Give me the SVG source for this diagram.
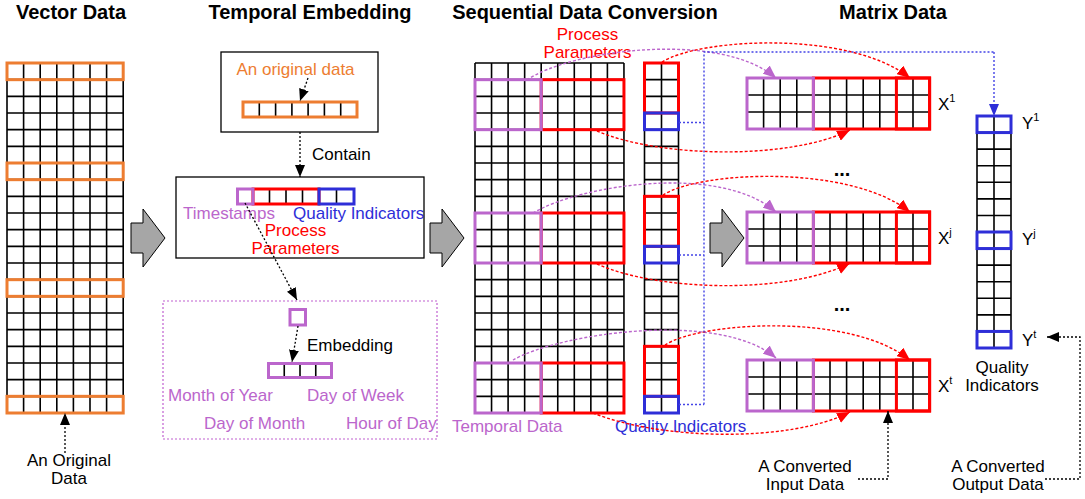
<svg xmlns="http://www.w3.org/2000/svg" width="1085" height="499" viewBox="0 0 1085 499">
  <style>
    text { font-family: "Liberation Sans", Arial, sans-serif; font-size: 17px; }
    .title { font-size: 20px; font-weight: bold; text-anchor: middle; fill: #000; }
    .lbl { fill: #000; }
    .mid { text-anchor: middle; }
    .t-orange { fill: #ED7D31; }
    .t-purple { fill: #BB66CC; }
    .t-red { fill: #FF0000; }
    .t-blue { fill: #2E2ED8; }
    .grid { fill: none; stroke: #000; stroke-width: 1.6; }
    .box-orange { fill: none; stroke: #ED7D31; stroke-width: 3; }
    .box-purple { fill: none; stroke: #BB66CC; stroke-width: 3; }
    .box-red { fill: none; stroke: #FF0000; stroke-width: 3; }
    .box-blue { fill: none; stroke: #2E2ED8; stroke-width: 3; }
    .frame { fill: #fff; stroke: #000; stroke-width: 1.3; }
    .frame-dot { fill: none; stroke: #C060D0; stroke-width: 1.2; stroke-dasharray: 2 2; }
    .block { fill: #A6A6A6; stroke: #000; stroke-width: 1; }
    .c-black { fill: none; stroke: #000; stroke-width: 1.3; stroke-dasharray: 2 2; }
    .c-red { fill: none; stroke: #FF0000; stroke-width: 1.4; stroke-dasharray: 3 2; }
    .c-purple { fill: none; stroke: #BB66CC; stroke-width: 1.4; stroke-dasharray: 3 2; }
    .c-blue { fill: none; stroke: #4444E6; stroke-width: 1.4; stroke-dasharray: 2 2; }
    .sup { font-size: 11px; }
  </style>
  <defs>
    <marker id="ah-black" viewBox="0 0 12 10" refX="12" refY="5" markerWidth="12" markerHeight="10" markerUnits="userSpaceOnUse" orient="auto">
      <path d="M0,0L12,5L0,10z" fill="#000"/>
    </marker>
    <marker id="ah-red" viewBox="0 0 12 10" refX="12" refY="5" markerWidth="13" markerHeight="11" markerUnits="userSpaceOnUse" orient="auto">
      <path d="M0,0L12,5L0,10z" fill="#FF0000"/>
    </marker>
    <marker id="ah-purple" viewBox="0 0 12 10" refX="12" refY="5" markerWidth="13" markerHeight="11" markerUnits="userSpaceOnUse" orient="auto">
      <path d="M0,0L12,5L0,10z" fill="#BB66CC"/>
    </marker>
    <marker id="ah-blue" viewBox="0 0 12 10" refX="12" refY="5" markerWidth="12" markerHeight="10" markerUnits="userSpaceOnUse" orient="auto">
      <path d="M0,0L12,5L0,10z" fill="#2E2ED8"/>
    </marker>
    <!-- one converted sample: 3 time steps x 11 features -->
    <g id="matrix">
      <path class="grid" d="M0,0V51M16.6,0V51M33.2,0V51M49.8,0V51M66.4,0V51M83,0V51M99.6,0V51M116.2,0V51M132.8,0V51M149.4,0V51M166,0V51M182.6,0V51M0,0H182.6M0,17H182.6M0,34H182.6M0,51H182.6"/>
      <rect class="box-red" x="66.4" y="0" width="116.2" height="51"/>
      <rect class="box-red" x="149.4" y="0" width="33.2" height="51"/>
      <rect class="box-purple" x="0" y="0" width="66.4" height="51"/>
    </g>
    <path id="block-arrow" class="block" d="M131,223H143V209L165,238L143,267V253H131Z"/>
  </defs>

  <rect width="1085" height="499" fill="#fff"/>

  <!-- section titles -->
  <text class="title" x="71" y="19">Vector Data</text>
  <text class="title" x="310" y="19">Temporal Embedding</text>
  <text class="title" x="585" y="19">Sequential Data Conversion</text>
  <text class="title" x="893" y="19">Matrix Data</text>

  <!-- raw vector table -->
  <g id="vector-data">
    <path class="grid" d="M7,63V413M23.6,63V413M40.2,63V413M56.8,63V413M73.4,63V413M90,63V413M106.6,63V413M123.2,63V413
      M7,63H123.2M7,79.67H123.2M7,96.33H123.2M7,113H123.2M7,129.67H123.2M7,146.33H123.2M7,163H123.2M7,179.67H123.2M7,196.33H123.2M7,213H123.2M7,229.67H123.2M7,246.33H123.2M7,263H123.2M7,279.67H123.2M7,296.33H123.2M7,313H123.2M7,329.67H123.2M7,346.33H123.2M7,363H123.2M7,379.67H123.2M7,396.33H123.2M7,413H123.2"/>
    <rect class="box-orange" x="7" y="63" width="116.2" height="16.67"/>
    <rect class="box-orange" x="7" y="163" width="116.2" height="16.67"/>
    <rect class="box-orange" x="7" y="279.67" width="116.2" height="16.67"/>
    <rect class="box-orange" x="7" y="396.33" width="116.2" height="16.67"/>
  </g>
  <g id="label-original">
    <text class="lbl mid" x="69" y="466">An Original</text>
    <text class="lbl mid" x="69" y="484">Data</text>
  </g>

  <!-- step arrows -->
  <g id="step-arrows">
    <use href="#block-arrow"/>
    <use href="#block-arrow" x="299"/>
    <use href="#block-arrow" x="579"/>
  </g>

  <!-- one original record -->
  <g id="original-record">
    <rect class="frame" x="221" y="52" width="157" height="80"/>
    <text class="t-orange mid" x="295.5" y="75">An original data</text>
    <path class="grid" d="M259.3,102V117M275.6,102V117M291.9,102V117M308.1,102V117M324.4,102V117M340.7,102V117"/>
    <rect class="box-orange" x="243" y="102" width="114" height="15"/>
  </g>

  <!-- record split into fields -->
  <g id="record-fields">
    <rect class="frame" x="176" y="177" width="248" height="81"/>
    <path class="grid" d="M269.5,189V204M286,189V204M302.5,189V204M336.5,189V204"/>
    <rect class="box-red" x="253" y="189" width="66" height="15"/>
    <rect class="box-purple" x="237.5" y="189" width="15.5" height="15"/>
    <rect class="box-blue" x="319" y="189" width="35" height="15"/>
    <text class="t-purple" x="183" y="219">Timestamps</text>
    <text class="t-blue" x="293" y="219">Quality Indicators</text>
    <text class="t-red mid" x="295.5" y="236">Process</text>
    <text class="t-red mid" x="295.5" y="254">Parameters</text>
  </g>

  <!-- timestamp embedding -->
  <g id="time-embedding">
    <rect class="frame-dot" x="163" y="301" width="274" height="138"/>
    <rect class="box-purple" x="290" y="309.5" width="15.5" height="15.5"/>
    <path class="grid" d="M284.25,363.5V377.5M300,363.5V377.5M315.75,363.5V377.5"/>
    <rect class="box-purple" x="268.5" y="363.5" width="63" height="14"/>
    <text class="t-purple" x="168" y="401">Month of Year</text>
    <text class="t-purple" x="307" y="401">Day of Week</text>
    <text class="t-purple" x="204" y="429">Day of Month</text>
    <text class="t-purple" x="346" y="429">Hour of Day</text>
  </g>

  <!-- sequential table -->
  <g id="sequence-table">
    <path class="grid" d="M475,63V413M491.55,63V413M508.1,63V413M524.65,63V413M541.2,63V413M557.75,63V413M574.3,63V413M590.85,63V413M607.4,63V413M623.95,63V413
      M475,63H623.95M475,79.67H623.95M475,96.33H623.95M475,113H623.95M475,129.67H623.95M475,146.33H623.95M475,163H623.95M475,179.67H623.95M475,196.33H623.95M475,213H623.95M475,229.67H623.95M475,246.33H623.95M475,263H623.95M475,279.67H623.95M475,296.33H623.95M475,313H623.95M475,329.67H623.95M475,346.33H623.95M475,363H623.95M475,379.67H623.95M475,396.33H623.95M475,413H623.95"/>
    <rect class="box-red" x="541.2" y="79.67" width="82.75" height="50"/>
    <rect class="box-purple" x="475" y="79.67" width="66.2" height="50"/>
    <rect class="box-red" x="541.2" y="213" width="82.75" height="50"/>
    <rect class="box-purple" x="475" y="213" width="66.2" height="50"/>
    <rect class="box-red" x="541.2" y="363" width="82.75" height="50"/>
    <rect class="box-purple" x="475" y="363" width="66.2" height="50"/>
    <text class="t-red mid" x="587.5" y="40">Process</text>
    <text class="t-red mid" x="587.5" y="58">Parameters</text>
    <text class="t-purple" x="452" y="432">Temporal Data</text>
  </g>

  <!-- quality / parameter column -->
  <g id="quality-column">
    <path class="grid" d="M644.5,63V413M661.5,63V413M678.5,63V413
      M644.5,63H678.5M644.5,79.67H678.5M644.5,96.33H678.5M644.5,113H678.5M644.5,129.67H678.5M644.5,146.33H678.5M644.5,163H678.5M644.5,179.67H678.5M644.5,196.33H678.5M644.5,213H678.5M644.5,229.67H678.5M644.5,246.33H678.5M644.5,263H678.5M644.5,279.67H678.5M644.5,296.33H678.5M644.5,313H678.5M644.5,329.67H678.5M644.5,346.33H678.5M644.5,363H678.5M644.5,379.67H678.5M644.5,396.33H678.5M644.5,413H678.5"/>
    <rect class="box-red" x="644.5" y="63" width="34" height="50"/>
    <rect class="box-blue" x="644.5" y="113" width="34" height="16.67"/>
    <rect class="box-red" x="644.5" y="196.33" width="34" height="50"/>
    <rect class="box-blue" x="644.5" y="246.33" width="34" height="16.67"/>
    <rect class="box-red" x="644.5" y="346.33" width="34" height="50"/>
    <rect class="box-blue" x="644.5" y="396.33" width="34" height="16.67"/>
    <text class="t-blue" x="615" y="432">Quality Indicators</text>
  </g>

  <!-- converted inputs -->
  <g id="matrix-x1">
    <use href="#matrix" transform="translate(747,78)"/>
    <text class="lbl" x="938" y="110">X<tspan class="sup" dy="-8">1</tspan></text>
  </g>
  <g id="matrix-xj">
    <use href="#matrix" transform="translate(747,212)"/>
    <text class="lbl" x="938" y="244">X<tspan class="sup" dy="-8">j</tspan></text>
  </g>
  <g id="matrix-xt">
    <use href="#matrix" transform="translate(747,360)"/>
    <text class="lbl" x="938" y="392">X<tspan class="sup" dy="-8">t</tspan></text>
  </g>
  <g id="ellipsis">
    <text class="lbl mid" x="842" y="176" style="font-size:20px;font-weight:bold">...</text>
    <text class="lbl mid" x="842" y="311" style="font-size:20px;font-weight:bold">...</text>
  </g>
  <g id="label-input">
    <text class="lbl mid" x="805" y="472">A Converted</text>
    <text class="lbl mid" x="805" y="490">Input Data</text>
  </g>

  <!-- converted outputs -->
  <g id="output-column">
    <path class="grid" d="M977,116V348M994,116V348M1011,116V348
      M977,116H1011M977,132.57H1011M977,149.14H1011M977,165.71H1011M977,182.29H1011M977,198.86H1011M977,215.43H1011M977,232H1011M977,248.57H1011M977,265.14H1011M977,281.71H1011M977,298.29H1011M977,314.86H1011M977,331.43H1011M977,348H1011"/>
    <rect class="box-blue" x="977" y="116" width="34" height="16.57"/>
    <rect class="box-blue" x="977" y="232" width="34" height="16.57"/>
    <rect class="box-blue" x="977" y="331.43" width="34" height="16.57"/>
    <text class="lbl" x="1022" y="129">Y<tspan class="sup" dy="-8">1</tspan></text>
    <text class="lbl" x="1022" y="245">Y<tspan class="sup" dy="-8">j</tspan></text>
    <text class="lbl" x="1022" y="346">Y<tspan class="sup" dy="-8">t</tspan></text>
    <text class="lbl mid" x="1002" y="373">Quality</text>
    <text class="lbl mid" x="1002" y="391">Indicators</text>
  </g>
  <g id="label-output">
    <text class="lbl mid" x="998" y="472">A Converted</text>
    <text class="lbl mid" x="998" y="490">Output Data</text>
  </g>

  <!-- connectors -->
  <g id="connectors">
    <path class="c-black" d="M65,453V413" marker-end="url(#ah-black)"/>
    <path class="c-black" d="M308,78L300,101" marker-end="url(#ah-black)"/>
    <path class="c-black" d="M300,132V177" marker-end="url(#ah-black)"/>
    <text class="lbl" x="312" y="160">Contain</text>
    <path class="c-black" d="M245,203L297,300" marker-end="url(#ah-black)"/>
    <path class="c-black" d="M298,326L292,362" marker-end="url(#ah-black)"/>
    <text class="lbl" x="307" y="351">Embedding</text>

    <!-- temporal columns to matrices -->
    <path class="c-purple" d="M527,80C570,50 720,30 776,78" marker-end="url(#ah-purple)"/>
    <path class="c-purple" d="M533,213C580,185 720,163 776,212" marker-end="url(#ah-purple)"/>
    <path class="c-purple" d="M513,360C560,333 720,310 776,358" marker-end="url(#ah-purple)"/>

    <!-- process parameters to matrices -->
    <path class="c-red" d="M597,131C660,158 790,160 850,130" marker-end="url(#ah-red)"/>
    <path class="c-red" d="M597,264C660,292 790,294 850,263" marker-end="url(#ah-red)"/>
    <path class="c-red" d="M593,413C660,440 790,443 850,412" marker-end="url(#ah-red)"/>
    <path class="c-red" d="M662,62C700,38 850,30 910,78" marker-end="url(#ah-red)"/>
    <path class="c-red" d="M663,195C700,171 850,164 910,212" marker-end="url(#ah-red)"/>
    <path class="c-red" d="M665,345C700,322 850,312 910,360" marker-end="url(#ah-red)"/>

    <!-- quality indicators to outputs -->
    <path class="c-blue" d="M679,122.5H704M679,255H704M679,404.5H704M704,404.5V52H994"/>
    <path class="c-blue" d="M994,52V116" marker-end="url(#ah-blue)"/>

    <!-- callouts -->
    <path class="c-black" d="M858,479H888V411" marker-end="url(#ah-black)"/>
    <path class="c-black" d="M1045,479H1080V337H1047" marker-end="url(#ah-black)"/>
  </g>
</svg>
